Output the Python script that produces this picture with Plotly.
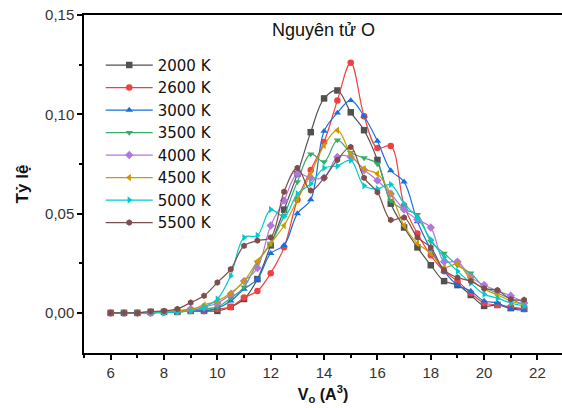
import plotly.graph_objects as go

x_vals = [6, 6.5, 7, 7.5, 8, 8.5, 9, 9.5, 10, 10.5, 11, 11.5, 12, 12.5, 13, 13.5,
          14, 14.5, 15, 15.5, 16, 16.5, 17, 17.5, 18, 18.5, 19, 19.5, 20, 20.5, 21, 21.5]

t2000 = [0, 0, 0, 0.0005, 0.0005, 0.0005, 0.001, 0.001, 0.001, 0.003, 0.007, 0.017, 0.034, 0.052, 0.070, 0.091,
         0.108, 0.112, 0.101, 0.092, 0.077, 0.055, 0.043, 0.033, 0.024, 0.016, 0.014, 0.009, 0.0035, 0.004, 0.0024, 0.002]
t2600 = [0, 0, 0, 0, 0.0005, 0.0005, 0.001, 0.001, 0.002, 0.003, 0.0077, 0.011, 0.020, 0.033, 0.057, 0.072,
         0.086, 0.107, 0.126, 0.099, 0.083, 0.084, 0.054, 0.040, 0.029, 0.021, 0.016, 0.010, 0.005, 0.004, 0.003, 0.002]
t3000 = [0, 0, 0, 0, 0.0005, 0.0005, 0.001, 0.001, 0.0024, 0.006, 0.012, 0.017, 0.030, 0.034, 0.050, 0.057,
         0.0915, 0.1007, 0.107, 0.099, 0.0865, 0.0717, 0.066, 0.046, 0.032, 0.021, 0.014, 0.011, 0.006, 0.005, 0.002, 0.0015]
t3500 = [0, 0, 0, 0, 0.0005, 0.001, 0.0015, 0.002, 0.003, 0.0074, 0.013, 0.0254, 0.035, 0.049, 0.066, 0.080,
         0.076, 0.087, 0.0807, 0.078, 0.075, 0.0566, 0.052, 0.0495, 0.036, 0.030, 0.024, 0.020, 0.013, 0.010, 0.007, 0.004]
t4000 = [0, 0, 0, 0, 0.0005, 0.001, 0.002, 0.003, 0.005, 0.0094, 0.016, 0.0226, 0.044, 0.0566, 0.070, 0.068,
         0.068, 0.0785, 0.0785, 0.072, 0.0667, 0.060, 0.052, 0.047, 0.043, 0.0258, 0.0258, 0.018, 0.014, 0.011, 0.0086, 0.005]
t4500 = [0, 0, 0, 0, 0.0005, 0.001, 0.0015, 0.004, 0.006, 0.010, 0.016, 0.026, 0.035, 0.044, 0.057, 0.070,
         0.0843, 0.092, 0.080, 0.0726, 0.070, 0.060, 0.044, 0.035, 0.030, 0.0229, 0.0246, 0.017, 0.012, 0.009, 0.006, 0.004]
t5000 = [0, 0, 0, 0, 0, 0.0005, 0.001, 0.003, 0.007, 0.0187, 0.038, 0.039, 0.052, 0.0485, 0.060, 0.065,
         0.073, 0.074, 0.0768, 0.064, 0.0625, 0.0646, 0.055, 0.048, 0.037, 0.028, 0.021, 0.015, 0.0094, 0.0074, 0.005, 0.0035]
t5500 = [0, 0, 0, 0.0007, 0.001, 0.002, 0.0052, 0.0086, 0.0153, 0.022, 0.0338, 0.0364, 0.038, 0.061, 0.073, 0.0616,
         0.068, 0.077, 0.0835, 0.068, 0.0608, 0.0468, 0.048, 0.038, 0.033, 0.0215, 0.0178, 0.016, 0.0123, 0.0114, 0.0069, 0.0066]

series_names = ["2000 K", "2600 K", "3000 K", "3500 K", "4000 K", "4500 K", "5000 K", "5500 K"]
series_values = [t2000, t2600, t3000, t3500, t4000, t4500, t5000, t5500]
colors = ["#515151", "#F14040", "#1A6FDF", "#37AD6B", "#B177DE", "#CC9900", "#00CBCC", "#7D4E4E"]
symbols = ["square", "circle", "triangle-up", "triangle-down", "diamond", "triangle-left", "triangle-right", "hexagon"]

fig = go.Figure()
for name, vals, col, sym in zip(series_names, series_values, colors, symbols):
    fig.add_trace(go.Scatter(
        x=x_vals, y=vals, name=name, mode="lines+markers",
        line=dict(color=col, width=1.2, shape="spline", smoothing=1.0),
        marker=dict(color=col, symbol=sym, size=6.5),
    ))

fig.update_layout(
    width=562, height=408,
    margin=dict(l=84, r=0, t=15, b=55),
    plot_bgcolor="white", paper_bgcolor="white",
    separators=", ",
    font=dict(family="Liberation Sans, Arial", color="#222"),
    showlegend=True,
    legend=dict(x=0.035, y=0.9, xanchor="left", yanchor="top",
                font=dict(size=15, color="#111", family="DejaVu Sans"),
                bgcolor="rgba(0,0,0,0)",
                itemwidth=47, tracegroupgap=0),
    annotations=[dict(text="Nguyên tử O", x=0.5, y=0.99, xref="paper", yref="paper",
                      xanchor="center", yanchor="top", showarrow=False,
                      font=dict(size=18, color="#111"))],
)
fig.update_xaxes(
    range=[5, 22.92], tickvals=[6, 8, 10, 12, 14, 16, 18, 20, 22],
    ticks="outside", ticklen=5, tickwidth=1.5, tickcolor="black",
    minor=dict(ticks="outside", ticklen=3, tickwidth=1.5, dtick=1, tick0=5, tickcolor="black"),
    showline=True, linecolor="black", linewidth=1.5, mirror=True,
    showgrid=False, zeroline=False,
    tickfont=dict(size=15, color="#333"),
    title=dict(text="<b>V<sub>o</sub> (A<sup>3</sup>)</b>", font=dict(size=16, color="#111"), standoff=9),
)
fig.update_yaxes(
    range=[-0.0202, 0.15], tickvals=[0, 0.05, 0.10, 0.15], tickformat=".2f",
    ticks="outside", ticklen=5, tickwidth=1.5, tickcolor="black",
    minor=dict(ticks="outside", ticklen=3, tickwidth=1.5, dtick=0.025, tick0=0, tickcolor="black"),
    showline=True, linecolor="black", linewidth=1.5,
    showgrid=False, zeroline=False,
    tickfont=dict(size=15, color="#333"),
    title=dict(text="<b>Tỷ lệ</b>", font=dict(size=17, color="#111"), standoff=12),
)

fig.write_html("out.html")
